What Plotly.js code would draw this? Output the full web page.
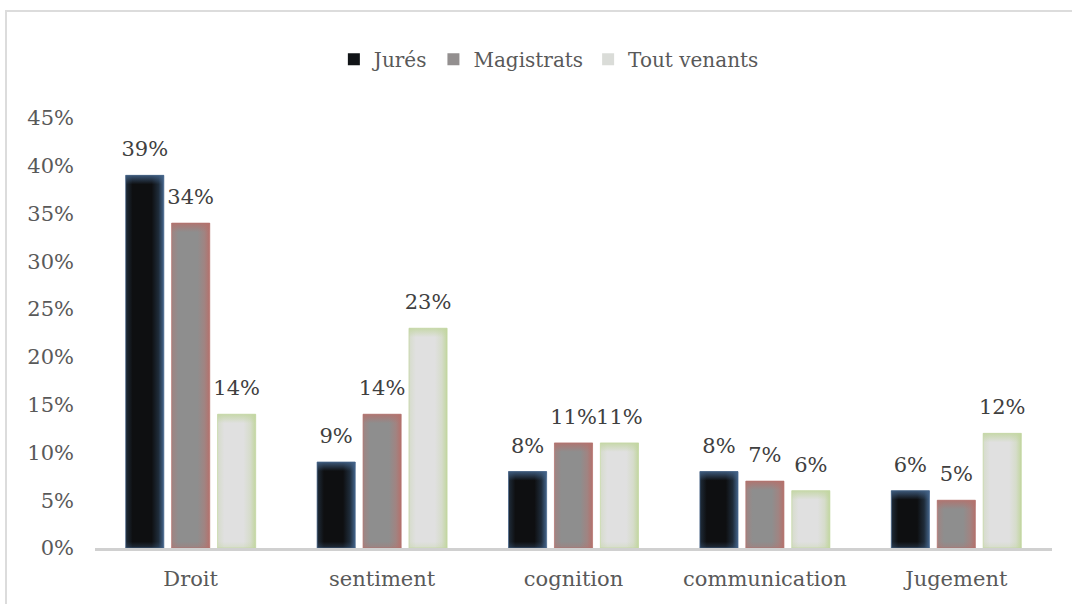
<!DOCTYPE html>
<html>
<head>
<meta charset="utf-8">
<script src="https://cdn.plot.ly/plotly-3.0.1.min.js"></script>
<style>
html,body{margin:0;padding:0;background:#fff;overflow:hidden;width:1072px;height:604px;}
#frame{position:absolute;left:5px;top:10px;width:1200px;height:800px;border:2px solid #dcdcdc;pointer-events:none;}
#chart{position:absolute;left:0;top:0;width:1072px;height:604px;}
</style>
</head>
<body>
<div id="chart"></div>
<div id="frame"></div>
<script>
const categories = ['Droit', 'sentiment', 'cognition', 'communication', 'Jugement'];
const seriesNames = ['Jurés', 'Magistrats', 'Tout venants'];
const jures = [0.39, 0.09, 0.08, 0.08, 0.06];
const magistrats = [0.34, 0.14, 0.11, 0.07, 0.05];
const toutVenants = [0.14, 0.23, 0.11, 0.06, 0.12];
const yTickVals = [0, 0.05, 0.10, 0.15, 0.20, 0.25, 0.30, 0.35, 0.40, 0.45];
const yTickText = ['0%', '5%', '10%', '15%', '20%', '25%', '30%', '35%', '40%', '45%'];

const baseColors = ['#111417', '#938f8f', '#dadcd8'];
const centerColors = ['#0e0f11', '#8e8e8e', '#e0e0e0'];
const midColors = ['#1f2c3a', '#a08482', '#d6dccb'];
const edgeColors = ['#44648a', '#b4716c', '#c2d6a0'];

const FONT = 'DejaVu Serif, serif';
const FS = 21;

function barTrace(name, vals, i) {
  return {
    type: 'bar', name: name, x: categories, y: vals,
    marker: {color: baseColors[i], line: {width: 0}},
    texttemplate: '%{y:.0%}', textposition: 'outside', constraintext: 'none',
    textfont: {family: FONT, size: FS, color: '#404040'},
    cliponaxis: false, hoverinfo: 'skip'
  };
}

const data = [
  barTrace(seriesNames[0], jures, 0),
  barTrace(seriesNames[1], magistrats, 1),
  barTrace(seriesNames[2], toutVenants, 2)
];

const layout = {
  width: 1072, height: 604,
  margin: {l: 95, r: 20, t: 118, b: 56},
  paper_bgcolor: 'rgba(0,0,0,0)', plot_bgcolor: 'rgba(0,0,0,0)',
  font: {family: FONT, size: FS, color: '#595959'},
  barmode: 'group', bargap: 0.28, bargroupgap: 0.17,
  showlegend: true,
  legend: {
    orientation: 'h', xref: 'container', yref: 'container',
    x: 0.512, xanchor: 'center', y: 0.902, yanchor: 'middle',
    font: {family: FONT, size: 20, color: '#595959'},
    itemwidth: 30, traceorder: 'normal'
  },
  xaxis: {
    type: 'category', showline: true, linecolor: '#d0d0d0', linewidth: 3,
    ticks: '', showgrid: false, zeroline: false, ticklabelstandoff: 10,
    tickfont: {family: FONT, size: FS, color: '#595959'}
  },
  yaxis: {
    range: [0, 0.45], tickvals: yTickVals, ticktext: yTickText,
    showgrid: false, zeroline: false, showline: false, ticks: '',
    ticklabelstandoff: 20,
    tickfont: {family: FONT, size: FS, color: '#595959'}
  }
};

Plotly.newPlot('chart', data, layout, {displayModeBar: false, staticPlot: true}).then(function (gd) {
  const svg = gd.querySelector('svg.main-svg');
  const ns = 'http://www.w3.org/2000/svg';
  let defs = svg.querySelector('defs');
  if (!defs) { defs = document.createElementNS(ns, 'defs'); svg.insertBefore(defs, svg.firstChild); }
  function stop(g, off, col, op) {
    const st = document.createElementNS(ns, 'stop');
    st.setAttribute('offset', off); st.setAttribute('stop-color', col);
    st.setAttribute('stop-opacity', op);
    g.appendChild(st);
  }
  let k = 0;
  const traces = gd.querySelectorAll('.barlayer .trace');
  traces.forEach(function (t, i) {
    const h = document.createElementNS(ns, 'linearGradient');
    h.setAttribute('id', 'hgrad' + i);
    h.setAttribute('x1', '0'); h.setAttribute('x2', '1'); h.setAttribute('y1', '0'); h.setAttribute('y2', '0');
    stop(h, 0, midColors[i], 1); stop(h, 0.18, centerColors[i], 1);
    stop(h, 0.68, centerColors[i], 1); stop(h, 0.86, midColors[i], 1);
    stop(h, 1, edgeColors[i], 1);
    defs.appendChild(h);
    t.querySelectorAll('.point path').forEach(function (p) {
      p.style.fill = 'url(#hgrad' + i + ')';
      p.style.stroke = edgeColors[i];
      p.style.strokeWidth = '1px';
      p.style.strokeOpacity = '0.7';
      const bb = p.getBBox();
      const band = Math.min(9, bb.height * 0.3);
      const v = document.createElementNS(ns, 'linearGradient');
      const id = 'vgrad' + (k++);
      v.setAttribute('id', id);
      v.setAttribute('gradientUnits', 'userSpaceOnUse');
      v.setAttribute('x1', 0); v.setAttribute('x2', 0);
      v.setAttribute('y1', bb.y); v.setAttribute('y2', bb.y + bb.height);
      const f = band / bb.height;
      stop(v, 0, edgeColors[i], 0.85); stop(v, f, edgeColors[i], 0);
      stop(v, 1 - f * 0.7, edgeColors[i], 0); stop(v, 1, edgeColors[i], 0.35);
      defs.appendChild(v);
      const c = p.cloneNode(true);
      c.style.fill = 'url(#' + id + ')';
      c.style.stroke = 'none';
      p.parentNode.insertBefore(c, p.nextSibling);
    });
    t.querySelectorAll('.point text').forEach(function (tx) {
      const tr = tx.getAttribute('transform') || '';
      tx.setAttribute('transform', 'translate(0,-11) ' + tr);
    });
  });
});
</script>
</body>
</html>
